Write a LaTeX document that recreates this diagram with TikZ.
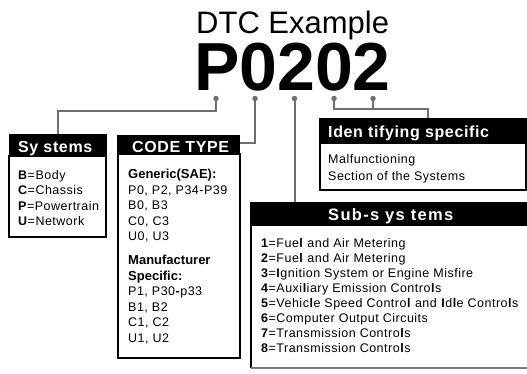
\documentclass[tikz,border=0pt]{standalone}
\usepackage{fontspec}
\setmainfont{Liberation Sans}
\definecolor{connc}{HTML}{6E6E6E}
\definecolor{rulec}{HTML}{7A7A7A}
\tikzset{
  conn/.style={draw=connc, line width=2pt},
  dotnode/.style={circle, fill=connc, inner sep=0pt, minimum size=5.5pt},
  hdrbox/.style={fill=black, draw=black, line width=1pt, inner sep=0pt},
  bodybox/.style={draw=black, line width=2pt, fill=white, inner sep=0pt},
  hdrtext/.style={text=white, inner sep=0pt, anchor=base west,
    font=\addfontfeature{LetterSpace=4}\bfseries\fontsize{16}{19}\selectfont},
  bodytext/.style={inner sep=0pt, anchor=base west,
    font=\addfontfeature{LetterSpace=4}\fontsize{12.5}{15}\selectfont},
  boldtext/.style={inner sep=0pt, anchor=base west,
    font=\bfseries\fontsize{13}{15}\selectfont},
}
\newcommand{\bl}{\textbf{l}}
\newcommand{\bI}{\textbf{I}}
\begin{document}
\begin{tikzpicture}[x=1pt,y=-1pt]
\useasboundingbox (0,0) rectangle (527,373);

% titles
\node[inner sep=0pt, anchor=base west, text height=23pt, text depth=6pt, font=\fontsize{31}{36}\selectfont] (title) at (196,33) {DTC Example};
\node[inner sep=0pt, anchor=base west, text height=49pt, text depth=0.5pt, font=\bfseries\fontsize{68}{72}\selectfont] (code) at (194,90) {P0202};

% dots
\node[dotnode] (d1) at (216,98.5) {};
\node[dotnode] (d2) at (255,98.5) {};
\node[dotnode] (d3) at (294.5,98.5) {};
\node[dotnode] (d4) at (334,98.5) {};
\node[dotnode] (d5) at (373,98.5) {};

% Systems box
\node[bodybox, minimum width=97pt, minimum height=81pt] (sysbody) at (57.5,196) {};
\node[hdrbox, minimum width=97pt, minimum height=22pt] (syshdr) at (57.5,145) {};
\node[hdrtext] (syst) at (18,152) {Sy stems};
\node[bodytext] (s1) at (18,179) {\textbf{B}=Body};
\node[bodytext] (s2) at (18,194.3) {\textbf{C}=Chassis};
\node[bodytext] (s3) at (18,210) {\textbf{P}=Powertrain};
\node[bodytext] (s4) at (18,225.3) {\textbf{U}=Network};

% Code type box
\node[bodybox, minimum width=122pt, minimum height=204pt] (codebody) at (178.5,256) {};
\node[hdrbox, minimum width=122pt, minimum height=19pt] (codehdr) at (178.5,145) {};
\node[hdrtext] (codet) at (132,152) {CODE TYPE};
\node[boldtext] (c1) at (128,178.5) {Generic(SAE):};
\node[bodytext] (c2) at (128,194) {P0, P2, P34-P39};
\node[bodytext] (c3) at (128,209.5) {B0, B3};
\node[bodytext] (c4) at (128,225) {C0, C3};
\node[bodytext] (c5) at (128,240.5) {U0, U3};
\node[boldtext] (c6) at (128,264) {Manufacturer};
\node[boldtext] (c7) at (128,280) {Specific:};
\node[bodytext] (c8) at (128,295.5) {P1, P30\textbf{-}p33};
\node[bodytext] (c9) at (128,311) {B1, B2};
\node[bodytext] (c10) at (128,326.5) {C1, C2};
\node[bodytext] (c11) at (128,342) {U1, U2};

% Identifying box
\node[bodybox, minimum width=206pt, minimum height=48pt] (idbody) at (422.5,166) {};
\node[hdrbox, minimum width=208pt, minimum height=25pt] (idhdr) at (423.5,130.5) {};
\node[hdrtext] (idt) at (328,137) {Iden tifying specific};
\node[bodytext] (i1) at (328,163) {Malfunctioning};
\node[bodytext] (i2) at (328,180) {Section of the Systems};

% Sub-systems box
\node[hdrbox, minimum width=282pt, minimum height=23pt] (subhdr) at (391,213.5) {};
\node[hdrtext, font=\addfontfeature{LetterSpace=8}\bfseries\fontsize{16.5}{19}\selectfont] (subt) at (328,220) {Sub-s ys tems};
\coordinate (subbl) at (251,368);
\coordinate (subbr) at (530,368);
\draw[black, line width=2pt] (subhdr.south west -| subbl) -- (subbl);
\draw[rulec, line width=1.5pt] (subbl) -- (subbr);
\node[bodytext] (u1) at (261,247) {\textbf{1}=Fue\bl{} and Air Metering};
\node[bodytext] (u2) at (261,262) {\textbf{2}=Fue\bl{} and Air Metering};
\node[bodytext] (u3) at (261,277) {\textbf{3}=\bI{}gnition System or Engine Misfire};
\node[bodytext] (u4) at (261,292) {\textbf{4}=Auxi\bl{}iary Emission Contro\bl{}s};
\node[bodytext] (u5) at (261,307) {\textbf{5}=Vehic\bl{}e Speed Contro\bl{} and \bI{}d\bl{}e Contro\bl{}s};
\node[bodytext] (u6) at (261,322) {\textbf{6}=Computer Output Circuits};
\node[bodytext] (u7) at (261,337) {\textbf{7}=Transmission Contro\bl{}s};
\node[bodytext] (u8) at (261,352) {\textbf{8}=Transmission Contro\bl{}s};

% connectors
\coordinate (j1) at (216,111);
\coordinate (j4) at (428,109);
\draw[conn] (d1) -- (j1) -| (syshdr.north);
\draw[conn] (d2) |- ([yshift=2pt]codehdr.east);
\draw[conn] (d3) -- (d3 |- subhdr.north);
\draw[conn] (d4) |- (j4) -- (j4 |- idhdr.north);
\draw[conn] (d5) -- (d5 |- j4);
\end{tikzpicture}
\end{document}
